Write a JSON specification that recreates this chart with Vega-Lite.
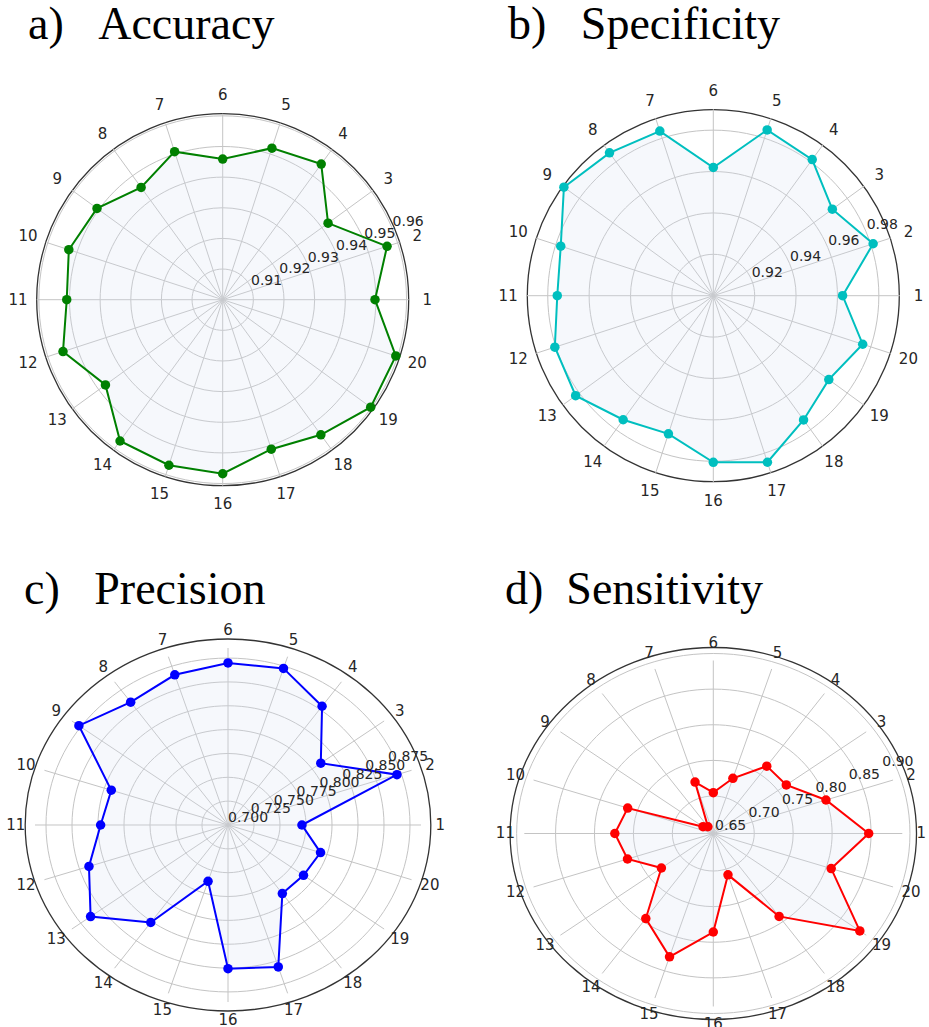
{
  "$schema": "https://vega.github.io/schema/vega-lite/v6.json",
  "padding": {"top": 2, "left": 0, "right": 0, "bottom": 0},
  "background": "white",
  "columns": 2,
  "spacing": {"row": 158, "column": 1},
  "bounds": "flush",
  "config": {
    "view": {"stroke": null},
    "title": {"font": "Liberation Serif", "fontSize": 46, "fontWeight": "normal", "anchor": "start", "color": "#000000", "baseline": "alphabetic", "offset": 9},
    "text": {"font": "DejaVu Sans", "fontSize": 14, "color": "#262626"}
  },
  "datasets": {
    "acc": [
      {"k": 1, "v": 0.9497}, {"k": 2, "v": 0.9564}, {"k": 3, "v": 0.9425}, {"k": 4, "v": 0.9547}, {"k": 5, "v": 0.9520},
      {"k": 6, "v": 0.9459}, {"k": 7, "v": 0.9508}, {"k": 8, "v": 0.9453}, {"k": 9, "v": 0.9507}, {"k": 10, "v": 0.9528},
      {"k": 11, "v": 0.9509}, {"k": 12, "v": 0.9548}, {"k": 13, "v": 0.9473}, {"k": 14, "v": 0.9570}, {"k": 15, "v": 0.9568},
      {"k": 16, "v": 0.9568}, {"k": 17, "v": 0.9513}, {"k": 18, "v": 0.9545}, {"k": 19, "v": 0.9597}, {"k": 20, "v": 0.9594}
    ],
    "acc_t": [{"t": 0.91}, {"t": 0.92}, {"t": 0.93}, {"t": 0.94}, {"t": 0.95}, {"t": 0.96}],
    "spe": [
      {"k": 1, "v": 0.9623}, {"k": 2, "v": 0.9810}, {"k": 3, "v": 0.9709}, {"k": 4, "v": 0.9811}, {"k": 5, "v": 0.9840},
      {"k": 6, "v": 0.9618}, {"k": 7, "v": 0.9834}, {"k": 8, "v": 0.9851}, {"k": 9, "v": 0.9890}, {"k": 10, "v": 0.9773},
      {"k": 11, "v": 0.9752}, {"k": 12, "v": 0.9803}, {"k": 13, "v": 0.9820}, {"k": 14, "v": 0.9739}, {"k": 15, "v": 0.9700},
      {"k": 16, "v": 0.9803}, {"k": 17, "v": 0.9844}, {"k": 18, "v": 0.9740}, {"k": 19, "v": 0.9688}, {"k": 20, "v": 0.9757}
    ],
    "spe_t": [{"t": 0.92}, {"t": 0.94}, {"t": 0.96}, {"t": 0.98}],
    "pre": [
      {"k": 1, "v": 0.7747}, {"k": 2, "v": 0.8795}, {"k": 3, "v": 0.8159}, {"k": 4, "v": 0.8617}, {"k": 5, "v": 0.8814},
      {"k": 6, "v": 0.8785}, {"k": 7, "v": 0.8740}, {"k": 8, "v": 0.8673}, {"k": 9, "v": 0.8862}, {"k": 10, "v": 0.8240},
      {"k": 11, "v": 0.8287}, {"k": 12, "v": 0.8477}, {"k": 13, "v": 0.8716}, {"k": 14, "v": 0.8328}, {"k": 15, "v": 0.7652},
      {"k": 16, "v": 0.8583}, {"k": 17, "v": 0.8644}, {"k": 18, "v": 0.7934}, {"k": 19, "v": 0.7943}, {"k": 20, "v": 0.7983}
    ],
    "pre_t": [{"t": 0.7}, {"t": 0.725}, {"t": 0.75}, {"t": 0.775}, {"t": 0.8}, {"t": 0.825}, {"t": 0.85}, {"t": 0.875}],
    "sen": [
      {"k": 1, "v": 0.862}, {"k": 2, "v": 0.811}, {"k": 3, "v": 0.772}, {"k": 4, "v": 0.773}, {"k": 5, "v": 0.735},
      {"k": 6, "v": 0.709}, {"k": 7, "v": 0.729}, {"k": 8, "v": 0.660}, {"k": 9, "v": 0.665}, {"k": 10, "v": 0.7717},
      {"k": 11, "v": 0.7834}, {"k": 12, "v": 0.772}, {"k": 13, "v": 0.736}, {"k": 14, "v": 0.806}, {"k": 15, "v": 0.843},
      {"k": 16, "v": 0.796}, {"k": 17, "v": 0.713}, {"k": 18, "v": 0.802}, {"k": 19, "v": 0.8975}, {"k": 20, "v": 0.8186}
    ],
    "sen_t": [{"t": 0.65}, {"t": 0.7}, {"t": 0.75}, {"t": 0.8}, {"t": 0.85}, {"t": 0.9}]
  },
  "concat": [
    {
      "width": 464, "height": 407,
      "title": {"text": "a)\u00a0\u00a0\u00a0Accuracy", "dx": 28},
      "data": {"name": "acc"},
      "transform": [
        {"calculate": "(datum.v - 0.9) / 0.0607", "as": "rn"},
        {"calculate": "(datum.k - 1) * PI / 10", "as": "ang"},
        {"calculate": "cos(datum.ang)", "as": "ux"},
        {"calculate": "sin(datum.ang)", "as": "uy"},
        {"calculate": "datum.rn * datum.ux", "as": "px"},
        {"calculate": "datum.rn * datum.uy", "as": "py"},
        {"calculate": "1.1 * datum.ux", "as": "lx"},
        {"calculate": "1.1 * datum.uy", "as": "ly"}
      ],
      "layer": [
        {
          "data": {"name": "acc_t"},
          "transform": [{"calculate": "(datum.t - 0.9) / 0.0607", "as": "rn"}],
          "mark": {"type": "point", "shape": "M-1,0C-1,-0.5523,-0.5523,-1,0,-1C0.5523,-1,1,-0.5523,1,0C1,0.5523,0.5523,1,0,1C-0.5523,1,-1,0.5523,-1,0Z", "filled": false, "stroke": "#c4c4c4", "strokeWidth": 1, "opacity": 1},
          "encoding": {
            "x": {"datum": 0, "type": "quantitative", "scale": {"domain": [-1.19731, 1.29731], "nice": false, "zero": false}, "axis": null},
            "y": {"datum": 0, "type": "quantitative", "scale": {"domain": [-0.88871, 1.29946], "nice": false, "zero": false}, "axis": null},
            "size": {"field": "rn", "type": "quantitative", "scale": {"type": "pow", "exponent": 2, "domain": [0, 1], "range": [0, 138384]}, "legend": null}
          }
        },
        {
          "data": {"values": [{"rn": 1}]},
          "mark": {"type": "point", "shape": "M-1,0C-1,-0.5523,-0.5523,-1,0,-1C0.5523,-1,1,-0.5523,1,0C1,0.5523,0.5523,1,0,1C-0.5523,1,-1,0.5523,-1,0Z", "filled": false, "stroke": "#333333", "strokeWidth": 1.3, "opacity": 1},
          "encoding": {
            "x": {"datum": 0, "type": "quantitative", "scale": {"domain": [-1.19731, 1.29731], "nice": false, "zero": false}, "axis": null},
            "y": {"datum": 0, "type": "quantitative", "scale": {"domain": [-0.88871, 1.29946], "nice": false, "zero": false}, "axis": null},
            "size": {"field": "rn", "type": "quantitative", "scale": {"type": "pow", "exponent": 2, "domain": [0, 1], "range": [0, 138384]}, "legend": null}
          }
        },
        {
          "mark": {"type": "rule", "stroke": "#c4c4c4", "strokeWidth": 1},
          "encoding": {
            "x": {"field": "ux", "type": "quantitative", "scale": {"domain": [-1.19731, 1.29731], "nice": false, "zero": false}, "axis": null},
            "y": {"field": "uy", "type": "quantitative", "scale": {"domain": [-0.88871, 1.29946], "nice": false, "zero": false}, "axis": null},
            "x2": {"datum": 0},
            "y2": {"datum": 0}
          }
        },
        {
          "mark": {"type": "line", "interpolate": "linear-closed", "stroke": "#008000", "strokeWidth": 2, "fill": "#d4def2", "fillOpacity": 0.22},
          "encoding": {
            "x": {"field": "px", "type": "quantitative", "scale": {"domain": [-1.19731, 1.29731], "nice": false, "zero": false}, "axis": null},
            "y": {"field": "py", "type": "quantitative", "scale": {"domain": [-0.88871, 1.29946], "nice": false, "zero": false}, "axis": null},
            "order": {"field": "k", "type": "quantitative"}
          }
        },
        {
          "mark": {"type": "point", "filled": true, "size": 90, "color": "#008000", "opacity": 1},
          "encoding": {
            "x": {"field": "px", "type": "quantitative", "scale": {"domain": [-1.19731, 1.29731], "nice": false, "zero": false}, "axis": null},
            "y": {"field": "py", "type": "quantitative", "scale": {"domain": [-0.88871, 1.29946], "nice": false, "zero": false}, "axis": null}
          }
        },
        {
          "mark": {"type": "text", "align": "center", "baseline": "middle", "fontSize": 15},
          "encoding": {
            "x": {"field": "lx", "type": "quantitative", "scale": {"domain": [-1.19731, 1.29731], "nice": false, "zero": false}, "axis": null},
            "y": {"field": "ly", "type": "quantitative", "scale": {"domain": [-0.88871, 1.29946], "nice": false, "zero": false}, "axis": null},
            "text": {"field": "k", "type": "nominal"}
          }
        },
        {
          "data": {"name": "acc_t"},
          "transform": [
            {"calculate": "(datum.t - 0.9) / 0.0607", "as": "rn"},
            {"calculate": "datum.rn * 0.92388", "as": "tx"},
            {"calculate": "datum.rn * 0.38268", "as": "ty"}
          ],
          "mark": {"type": "text", "align": "left", "baseline": "bottom"},
          "encoding": {
            "x": {"field": "tx", "type": "quantitative", "scale": {"domain": [-1.19731, 1.29731], "nice": false, "zero": false}, "axis": null},
            "y": {"field": "ty", "type": "quantitative", "scale": {"domain": [-0.88871, 1.29946], "nice": false, "zero": false}, "axis": null},
            "text": {"field": "t", "type": "quantitative", "format": ".2f"}
          }
        }
      ]
    },
    {
      "width": 464, "height": 407,
      "title": {"text": "b)\u00a0\u00a0\u00a0Specificity", "dx": 43},
      "data": {"name": "spe"},
      "transform": [
        {"calculate": "(datum.v - 0.9) / 0.08988", "as": "rn"},
        {"calculate": "(datum.k - 1) * PI / 10", "as": "ang"},
        {"calculate": "cos(datum.ang)", "as": "ux"},
        {"calculate": "sin(datum.ang)", "as": "uy"},
        {"calculate": "datum.rn * datum.ux", "as": "px"},
        {"calculate": "datum.rn * datum.uy", "as": "py"},
        {"calculate": "1.1 * datum.ux", "as": "lx"},
        {"calculate": "1.1 * datum.uy", "as": "ly"}
      ],
      "layer": [
        {
          "data": {"name": "spe_t"},
          "transform": [{"calculate": "(datum.t - 0.9) / 0.08988", "as": "rn"}],
          "mark": {"type": "point", "shape": "M-1,0C-1,-0.5523,-0.5523,-1,0,-1C0.5523,-1,1,-0.5523,1,0C1,0.5523,0.5523,1,0,1C-0.5523,1,-1,0.5523,-1,0Z", "filled": false, "stroke": "#c4c4c4", "strokeWidth": 1, "opacity": 1},
          "encoding": {
            "x": {"datum": 0, "type": "quantitative", "scale": {"domain": [-1.33137, 1.15657], "nice": false, "zero": false}, "axis": null},
            "y": {"datum": 0, "type": "quantitative", "scale": {"domain": [-0.90777, 1.27453], "nice": false, "zero": false}, "axis": null},
            "size": {"field": "rn", "type": "quantitative", "scale": {"type": "pow", "exponent": 2, "domain": [0, 1], "range": [0, 139129]}, "legend": null}
          }
        },
        {
          "data": {"values": [{"rn": 1}]},
          "mark": {"type": "point", "shape": "M-1,0C-1,-0.5523,-0.5523,-1,0,-1C0.5523,-1,1,-0.5523,1,0C1,0.5523,0.5523,1,0,1C-0.5523,1,-1,0.5523,-1,0Z", "filled": false, "stroke": "#333333", "strokeWidth": 1.3, "opacity": 1},
          "encoding": {
            "x": {"datum": 0, "type": "quantitative", "scale": {"domain": [-1.33137, 1.15657], "nice": false, "zero": false}, "axis": null},
            "y": {"datum": 0, "type": "quantitative", "scale": {"domain": [-0.90777, 1.27453], "nice": false, "zero": false}, "axis": null},
            "size": {"field": "rn", "type": "quantitative", "scale": {"type": "pow", "exponent": 2, "domain": [0, 1], "range": [0, 139129]}, "legend": null}
          }
        },
        {
          "mark": {"type": "rule", "stroke": "#c4c4c4", "strokeWidth": 1},
          "encoding": {
            "x": {"field": "ux", "type": "quantitative", "scale": {"domain": [-1.33137, 1.15657], "nice": false, "zero": false}, "axis": null},
            "y": {"field": "uy", "type": "quantitative", "scale": {"domain": [-0.90777, 1.27453], "nice": false, "zero": false}, "axis": null},
            "x2": {"datum": 0},
            "y2": {"datum": 0}
          }
        },
        {
          "mark": {"type": "line", "interpolate": "linear-closed", "stroke": "#00bfbf", "strokeWidth": 2, "fill": "#d4def2", "fillOpacity": 0.22},
          "encoding": {
            "x": {"field": "px", "type": "quantitative", "scale": {"domain": [-1.33137, 1.15657], "nice": false, "zero": false}, "axis": null},
            "y": {"field": "py", "type": "quantitative", "scale": {"domain": [-0.90777, 1.27453], "nice": false, "zero": false}, "axis": null},
            "order": {"field": "k", "type": "quantitative"}
          }
        },
        {
          "mark": {"type": "point", "filled": true, "size": 90, "color": "#00bfbf", "opacity": 1},
          "encoding": {
            "x": {"field": "px", "type": "quantitative", "scale": {"domain": [-1.33137, 1.15657], "nice": false, "zero": false}, "axis": null},
            "y": {"field": "py", "type": "quantitative", "scale": {"domain": [-0.90777, 1.27453], "nice": false, "zero": false}, "axis": null}
          }
        },
        {
          "mark": {"type": "text", "align": "center", "baseline": "middle", "fontSize": 15},
          "encoding": {
            "x": {"field": "lx", "type": "quantitative", "scale": {"domain": [-1.33137, 1.15657], "nice": false, "zero": false}, "axis": null},
            "y": {"field": "ly", "type": "quantitative", "scale": {"domain": [-0.90777, 1.27453], "nice": false, "zero": false}, "axis": null},
            "text": {"field": "k", "type": "nominal"}
          }
        },
        {
          "data": {"name": "spe_t"},
          "transform": [
            {"calculate": "(datum.t - 0.9) / 0.08988", "as": "rn"},
            {"calculate": "datum.rn * 0.92388", "as": "tx"},
            {"calculate": "datum.rn * 0.38268", "as": "ty"}
          ],
          "mark": {"type": "text", "align": "left", "baseline": "bottom"},
          "encoding": {
            "x": {"field": "tx", "type": "quantitative", "scale": {"domain": [-1.33137, 1.15657], "nice": false, "zero": false}, "axis": null},
            "y": {"field": "ty", "type": "quantitative", "scale": {"domain": [-0.90777, 1.27453], "nice": false, "zero": false}, "axis": null},
            "text": {"field": "t", "type": "quantitative", "format": ".2f"}
          }
        }
      ]
    },
    {
      "width": 464, "height": 407,
      "title": {"text": "c)\u00a0\u00a0\u00a0Precision", "dx": 24},
      "data": {"name": "pre"},
      "transform": [
        {"calculate": "(datum.v - 0.7) / 0.195", "as": "rn"},
        {"calculate": "(datum.k - 1) * PI / 10", "as": "ang"},
        {"calculate": "cos(datum.ang)", "as": "ux"},
        {"calculate": "sin(datum.ang)", "as": "uy"},
        {"calculate": "datum.rn * datum.ux", "as": "px"},
        {"calculate": "datum.rn * datum.uy", "as": "py"},
        {"calculate": "1.1 * datum.ux", "as": "lx"},
        {"calculate": "1.1 * datum.uy", "as": "ly"}
      ],
      "layer": [
        {
          "data": {"name": "pre_t"},
          "transform": [{"calculate": "(datum.t - 0.7) / 0.195", "as": "rn"}],
          "mark": {"type": "point", "shape": "M-1.0904,0C-1.0904,-0.5523,-0.6022,-1,0,-1C0.6022,-1,1.0904,-0.5523,1.0904,0C1.0904,0.5523,0.6022,1,0,1C-0.6022,1,-1.0904,0.5523,-1.0904,0Z", "filled": false, "stroke": "#c4c4c4", "strokeWidth": 1, "opacity": 1},
          "encoding": {
            "x": {"datum": 0, "type": "quantitative", "scale": {"domain": [-1.18135, 1.2228], "nice": false, "zero": false}, "axis": null},
            "y": {"datum": 0, "type": "quantitative", "scale": {"domain": [-1.15819, 1.14124], "nice": false, "zero": false}, "axis": null},
            "size": {"field": "rn", "type": "quantitative", "scale": {"type": "pow", "exponent": 2, "domain": [0, 1], "range": [0, 125316]}, "legend": null}
          }
        },
        {
          "data": {"values": [{"rn": 1}]},
          "mark": {"type": "point", "shape": "M-1.0904,0C-1.0904,-0.5523,-0.6022,-1,0,-1C0.6022,-1,1.0904,-0.5523,1.0904,0C1.0904,0.5523,0.6022,1,0,1C-0.6022,1,-1.0904,0.5523,-1.0904,0Z", "filled": false, "stroke": "#333333", "strokeWidth": 1.3, "opacity": 1},
          "encoding": {
            "x": {"datum": 0, "type": "quantitative", "scale": {"domain": [-1.18135, 1.2228], "nice": false, "zero": false}, "axis": null},
            "y": {"datum": 0, "type": "quantitative", "scale": {"domain": [-1.15819, 1.14124], "nice": false, "zero": false}, "axis": null},
            "size": {"field": "rn", "type": "quantitative", "scale": {"type": "pow", "exponent": 2, "domain": [0, 1], "range": [0, 125316]}, "legend": null}
          }
        },
        {
          "mark": {"type": "rule", "stroke": "#c4c4c4", "strokeWidth": 1},
          "encoding": {
            "x": {"field": "ux", "type": "quantitative", "scale": {"domain": [-1.18135, 1.2228], "nice": false, "zero": false}, "axis": null},
            "y": {"field": "uy", "type": "quantitative", "scale": {"domain": [-1.15819, 1.14124], "nice": false, "zero": false}, "axis": null},
            "x2": {"datum": 0},
            "y2": {"datum": 0}
          }
        },
        {
          "mark": {"type": "line", "interpolate": "linear-closed", "stroke": "#0000ff", "strokeWidth": 2, "fill": "#d4def2", "fillOpacity": 0.22},
          "encoding": {
            "x": {"field": "px", "type": "quantitative", "scale": {"domain": [-1.18135, 1.2228], "nice": false, "zero": false}, "axis": null},
            "y": {"field": "py", "type": "quantitative", "scale": {"domain": [-1.15819, 1.14124], "nice": false, "zero": false}, "axis": null},
            "order": {"field": "k", "type": "quantitative"}
          }
        },
        {
          "mark": {"type": "point", "filled": true, "size": 90, "color": "#0000ff", "opacity": 1},
          "encoding": {
            "x": {"field": "px", "type": "quantitative", "scale": {"domain": [-1.18135, 1.2228], "nice": false, "zero": false}, "axis": null},
            "y": {"field": "py", "type": "quantitative", "scale": {"domain": [-1.15819, 1.14124], "nice": false, "zero": false}, "axis": null}
          }
        },
        {
          "mark": {"type": "text", "align": "center", "baseline": "middle", "fontSize": 15, "clip": true},
          "encoding": {
            "x": {"field": "lx", "type": "quantitative", "scale": {"domain": [-1.18135, 1.2228], "nice": false, "zero": false}, "axis": null},
            "y": {"field": "ly", "type": "quantitative", "scale": {"domain": [-1.15819, 1.14124], "nice": false, "zero": false}, "axis": null},
            "text": {"field": "k", "type": "nominal"}
          }
        },
        {
          "data": {"name": "pre_t"},
          "transform": [
            {"calculate": "(datum.t - 0.7) / 0.195", "as": "rn"},
            {"calculate": "datum.rn * 0.92388", "as": "tx"},
            {"calculate": "datum.rn * 0.38268", "as": "ty"}
          ],
          "mark": {"type": "text", "align": "left", "baseline": "bottom"},
          "encoding": {
            "x": {"field": "tx", "type": "quantitative", "scale": {"domain": [-1.18135, 1.2228], "nice": false, "zero": false}, "axis": null},
            "y": {"field": "ty", "type": "quantitative", "scale": {"domain": [-1.15819, 1.14124], "nice": false, "zero": false}, "axis": null},
            "text": {"field": "t", "type": "quantitative", "format": ".3f"}
          }
        }
      ]
    },
    {
      "width": 464, "height": 407,
      "title": {"text": "d)\u00a0\u00a0Sensitivity", "dx": 40},
      "data": {"name": "sen"},
      "transform": [
        {"calculate": "(datum.v - 0.6474) / 0.261", "as": "rn"},
        {"calculate": "(datum.k - 1) * PI / 10", "as": "ang"},
        {"calculate": "cos(datum.ang)", "as": "ux"},
        {"calculate": "sin(datum.ang)", "as": "uy"},
        {"calculate": "datum.rn * datum.ux", "as": "px"},
        {"calculate": "datum.rn * datum.uy", "as": "py"},
        {"calculate": "1.1 * datum.ux", "as": "lx"},
        {"calculate": "1.1 * datum.uy", "as": "ly"}
      ],
      "layer": [
        {
          "data": {"name": "sen_t"},
          "transform": [{"calculate": "(datum.t - 0.6474) / 0.261", "as": "rn"}],
          "mark": {"type": "point", "shape": "M-1.0925,0C-1.0925,-0.5523,-0.6034,-1,0,-1C0.6034,-1,1.0925,-0.5523,1.0925,0C1.0925,0.5523,0.6034,1,0,1C-0.6034,1,-1.0925,0.5523,-1.0925,0Z", "filled": false, "stroke": "#c4c4c4", "strokeWidth": 1, "opacity": 1},
          "encoding": {
            "x": {"datum": 0, "type": "quantitative", "scale": {"domain": [-1.31376, 1.14127], "nice": false, "zero": false}, "axis": null},
            "y": {"datum": 0, "type": "quantitative", "scale": {"domain": [-1.13584, 1.21676], "nice": false, "zero": false}, "axis": null},
            "size": {"field": "rn", "type": "quantitative", "scale": {"type": "pow", "exponent": 2, "domain": [0, 1], "range": [0, 119716]}, "legend": null}
          }
        },
        {
          "data": {"values": [{"rn": 1}]},
          "mark": {"type": "point", "shape": "M-1.0925,0C-1.0925,-0.5523,-0.6034,-1,0,-1C0.6034,-1,1.0925,-0.5523,1.0925,0C1.0925,0.5523,0.6034,1,0,1C-0.6034,1,-1.0925,0.5523,-1.0925,0Z", "filled": false, "stroke": "#333333", "strokeWidth": 1.3, "opacity": 1},
          "encoding": {
            "x": {"datum": 0, "type": "quantitative", "scale": {"domain": [-1.31376, 1.14127], "nice": false, "zero": false}, "axis": null},
            "y": {"datum": 0, "type": "quantitative", "scale": {"domain": [-1.13584, 1.21676], "nice": false, "zero": false}, "axis": null},
            "size": {"field": "rn", "type": "quantitative", "scale": {"type": "pow", "exponent": 2, "domain": [0, 1], "range": [0, 119716]}, "legend": null}
          }
        },
        {
          "mark": {"type": "rule", "stroke": "#c4c4c4", "strokeWidth": 1},
          "encoding": {
            "x": {"field": "ux", "type": "quantitative", "scale": {"domain": [-1.31376, 1.14127], "nice": false, "zero": false}, "axis": null},
            "y": {"field": "uy", "type": "quantitative", "scale": {"domain": [-1.13584, 1.21676], "nice": false, "zero": false}, "axis": null},
            "x2": {"datum": 0},
            "y2": {"datum": 0}
          }
        },
        {
          "mark": {"type": "line", "interpolate": "linear-closed", "stroke": "#ff0000", "strokeWidth": 2, "fill": "#d4def2", "fillOpacity": 0.22},
          "encoding": {
            "x": {"field": "px", "type": "quantitative", "scale": {"domain": [-1.31376, 1.14127], "nice": false, "zero": false}, "axis": null},
            "y": {"field": "py", "type": "quantitative", "scale": {"domain": [-1.13584, 1.21676], "nice": false, "zero": false}, "axis": null},
            "order": {"field": "k", "type": "quantitative"}
          }
        },
        {
          "mark": {"type": "point", "filled": true, "size": 90, "color": "#ff0000", "opacity": 1},
          "encoding": {
            "x": {"field": "px", "type": "quantitative", "scale": {"domain": [-1.31376, 1.14127], "nice": false, "zero": false}, "axis": null},
            "y": {"field": "py", "type": "quantitative", "scale": {"domain": [-1.13584, 1.21676], "nice": false, "zero": false}, "axis": null}
          }
        },
        {
          "mark": {"type": "text", "align": "center", "baseline": "middle", "fontSize": 15, "clip": true},
          "encoding": {
            "x": {"field": "lx", "type": "quantitative", "scale": {"domain": [-1.31376, 1.14127], "nice": false, "zero": false}, "axis": null},
            "y": {"field": "ly", "type": "quantitative", "scale": {"domain": [-1.13584, 1.21676], "nice": false, "zero": false}, "axis": null},
            "text": {"field": "k", "type": "nominal"}
          }
        },
        {
          "data": {"name": "sen_t"},
          "transform": [
            {"calculate": "(datum.t - 0.6474) / 0.261", "as": "rn"},
            {"calculate": "datum.rn * 0.92388", "as": "tx"},
            {"calculate": "datum.rn * 0.38268", "as": "ty"}
          ],
          "mark": {"type": "text", "align": "left", "baseline": "bottom"},
          "encoding": {
            "x": {"field": "tx", "type": "quantitative", "scale": {"domain": [-1.31376, 1.14127], "nice": false, "zero": false}, "axis": null},
            "y": {"field": "ty", "type": "quantitative", "scale": {"domain": [-1.13584, 1.21676], "nice": false, "zero": false}, "axis": null},
            "text": {"field": "t", "type": "quantitative", "format": ".2f"}
          }
        }
      ]
    }
  ]
}
